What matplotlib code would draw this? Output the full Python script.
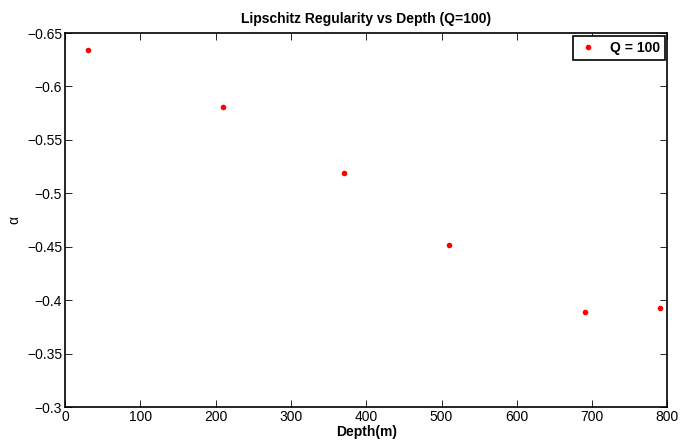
import matplotlib
matplotlib.use("Agg")
from matplotlib import pyplot as plt

depth = [30, 210, 370, 510, 690, 790]
alpha = [-0.634, -0.581, -0.519, -0.452, -0.389, -0.393]
yticks = [-0.65, -0.6, -0.55, -0.5, -0.45, -0.4, -0.35, -0.3]
ytick_labels = ["\u22120.65", "\u22120.6", "\u22120.55", "\u22120.5",
                "\u22120.45", "\u22120.4", "\u22120.35", "\u22120.3"]
xticks = [0, 100, 200, 300, 400, 500, 600, 700, 800]


def main():
    plt.rcParams["font.family"] = ["Liberation Sans", "DejaVu Sans"]
    fig = plt.figure(figsize=(6.8, 4.41), dpi=100)
    ax = fig.add_axes([0.0956, 0.077, 0.886, 0.848])

    ax.plot(depth, alpha, ".", color="red", markersize=6, label="Q = 100")

    ax.set_xlim(0, 800)
    ax.set_ylim(-0.3, -0.65)  # reversed like the original
    ax.set_xticks(xticks)
    ax.set_yticks(yticks)
    ax.set_yticklabels(ytick_labels)
    ax.tick_params(direction="in", top=True, right=True, labelsize=10,
                   length=5, width=0.6, pad=2)
    for s in ax.spines.values():
        s.set_linewidth(1.2)

    ax.set_title("Lipschitz Regularity vs Depth (Q=100)", fontsize=10,
                 fontweight="bold", pad=7)
    ax.set_xlabel("Depth(m)", fontsize=10, fontweight="bold", labelpad=1)
    ax.set_ylabel("\u03b1", fontsize=10)
    ax.yaxis.set_label_coords(-0.072, 0.5)

    leg = ax.legend(loc="upper right", fancybox=False, framealpha=1,
                    edgecolor="black", prop={"weight": "bold", "size": 10},
                    borderaxespad=0.2, borderpad=0.35, handlelength=1.5,
                    handletextpad=0.8)
    leg.get_frame().set_linewidth(1.2)

    fig.savefig("out.png", dpi=100)


if __name__ == "__main__":
    main()
